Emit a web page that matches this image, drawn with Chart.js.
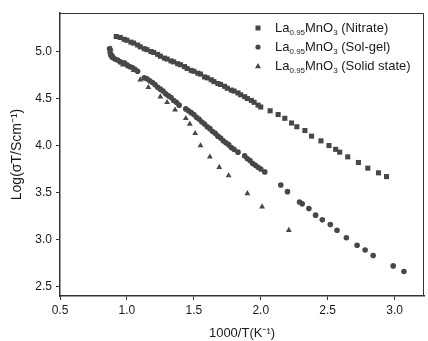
<!DOCTYPE html>
<html>
<head>
<meta charset="utf-8">
<script src="https://cdn.jsdelivr.net/npm/chart.js@4.4.0/dist/chart.umd.min.js"></script>
<style>
  html, body { margin: 0; padding: 0; background: #fff; }
  #wrap { width: 428px; height: 341px; }
</style>
</head>
<body>
<div id="wrap"><canvas id="myChart" width="428" height="341"></canvas></div>
<script>
// values: x = 1000/T (K^-1), y = Log(sigma T)
const nitrateX = [0.92, 0.95, 0.98, 1.00, 1.03, 1.05, 1.08, 1.10, 1.13, 1.15, 1.18, 1.20, 1.23, 1.25, 1.28, 1.30,
  1.33, 1.35, 1.38, 1.40, 1.43, 1.45, 1.48, 1.50, 1.53, 1.55, 1.58, 1.60, 1.63, 1.65, 1.68, 1.70, 1.73, 1.75,
  1.78, 1.80, 1.83, 1.85, 1.88, 1.90, 1.93, 1.95, 1.98, 2.00, 2.07, 2.13, 2.18, 2.23, 2.27, 2.33, 2.38, 2.45,
  2.51, 2.56, 2.59, 2.65, 2.73, 2.80, 2.88, 2.94];
const nitrateY = [5.16, 5.15, 5.13, 5.12, 5.10, 5.09, 5.07, 5.05, 5.03, 5.02, 5.00, 4.99, 4.97, 4.95, 4.93, 4.92,
  4.90, 4.89, 4.87, 4.86, 4.84, 4.82, 4.80, 4.79, 4.77, 4.76, 4.73, 4.72, 4.70, 4.68, 4.66, 4.65, 4.63, 4.61,
  4.59, 4.58, 4.56, 4.54, 4.52, 4.50, 4.48, 4.46, 4.43, 4.41, 4.37, 4.33, 4.29, 4.24, 4.20, 4.16, 4.10, 4.05,
  4.00, 3.96, 3.93, 3.88, 3.82, 3.76, 3.71, 3.67];

const solGelX = [0.87, 0.875, 0.88, 0.89, 0.91, 0.93, 0.95, 0.98, 1.00, 1.02, 1.04, 1.06, 1.08,
  1.13, 1.15, 1.17, 1.19, 1.21, 1.23, 1.25, 1.27, 1.29, 1.31, 1.33, 1.35, 1.37, 1.39,
  1.44, 1.46, 1.48, 1.50, 1.52, 1.54, 1.56, 1.58, 1.60, 1.62, 1.64, 1.66, 1.68, 1.70, 1.72, 1.74, 1.76, 1.78, 1.80, 1.83,
  1.88, 1.90, 1.92, 1.94, 1.96, 1.98, 2.00, 2.03,
  2.15, 2.20, 2.29, 2.31, 2.36, 2.41, 2.46, 2.52, 2.57, 2.64, 2.72, 2.78, 2.84, 2.99, 3.07];
const solGelY = [5.03, 4.99, 4.96, 4.94, 4.92, 4.91, 4.89, 4.88, 4.86, 4.84, 4.83, 4.81, 4.79,
  4.72, 4.71, 4.69, 4.67, 4.65, 4.62, 4.60, 4.58, 4.55, 4.53, 4.51, 4.48, 4.46, 4.43,
  4.39, 4.37, 4.35, 4.33, 4.30, 4.28, 4.25, 4.23, 4.20, 4.18, 4.15, 4.13, 4.10, 4.08, 4.05, 4.03, 4.01, 3.98, 3.96, 3.93,
  3.89, 3.86, 3.84, 3.81, 3.79, 3.77, 3.75, 3.72,
  3.58, 3.51, 3.40, 3.38, 3.33, 3.26, 3.21, 3.16, 3.10, 3.02, 2.94, 2.89, 2.83, 2.72, 2.66];

const solidX = [0.88, 0.90, 0.97, 1.01, 1.05, 1.10, 1.16, 1.25, 1.30, 1.36, 1.44, 1.47, 1.51, 1.55,
  1.62, 1.69, 1.76, 1.90, 2.01, 2.21];
const solidY = [5.03, 4.95, 4.86, 4.84, 4.80, 4.70, 4.62, 4.52, 4.46, 4.38, 4.29, 4.23, 4.13, 4.00,
  3.88, 3.77, 3.68, 3.49, 3.35, 3.10];

const xTicks = [0.5, 1.0, 1.5, 2.0, 2.5, 3.0];
const yTicks = [2.5, 3.0, 3.5, 4.0, 4.5, 5.0];

// legend label parts: [text, subscript?]
const legendLabels = [
  [['La', false], ['0.95', true], ['MnO', false], ['3', true], [' (Nitrate)', false]],
  [['La', false], ['0.95', true], ['MnO', false], ['3', true], [' (Sol-gel)', false]],
  [['La', false], ['0.95', true], ['MnO', false], ['3', true], [' (Solid state)', false]]
];

const markColor = '#474747';
const inkColor = '#1a1a1a';
const font = 'Liberation Sans, Arial, sans-serif';

const toPoints = (xs, ys) => xs.map((x, i) => ({ x: x, y: ys[i] }));

const drawMark = (ctx, style, x, y) => {
  ctx.fillStyle = markColor;
  ctx.beginPath();
  if (style === 'rect') {
    ctx.rect(x - 2.5, y - 2.5, 5, 5);
  } else if (style === 'circle') {
    ctx.arc(x, y, 2.6, 0, Math.PI * 2);
  } else {
    ctx.moveTo(x, y - 3.1);
    ctx.lineTo(x + 3, y + 2.3);
    ctx.lineTo(x - 3, y + 2.3);
    ctx.closePath();
  }
  ctx.fill();
};

const framePlugin = {
  id: 'frame',
  afterDraw(chart) {
    const { ctx, chartArea: a } = chart;
    ctx.save();
    ctx.strokeStyle = '#333';
    ctx.lineWidth = 1;
    ctx.beginPath();
    ctx.moveTo(a.left, a.top + 0.5);
    ctx.lineTo(a.right - 0.5, a.top + 0.5);
    ctx.lineTo(a.right - 0.5, a.bottom);
    ctx.stroke();

    // legend with subscripts
    const styles = ['rect', 'circle', 'triangle'];
    const rows = [28, 47, 66];
    rows.forEach((y, i) => {
      drawMark(ctx, styles[i], 258, y);
      let x = 275;
      ctx.fillStyle = inkColor;
      ctx.textBaseline = 'middle';
      legendLabels[i].forEach(([txt, sub]) => {
        ctx.font = (sub ? '8px ' : '13px ') + font;
        ctx.fillText(txt, x, sub ? y + 5 : y);
        x += ctx.measureText(txt).width;
      });
    });
    ctx.restore();
  }
};

const ctx = document.getElementById('myChart');

const data = {
  datasets: [
    { label: 'Nitrate', data: toPoints(nitrateX, nitrateY), pointStyle: 'rect', pointRadius: 3.6 },
    { label: 'Sol-gel', data: toPoints(solGelX, solGelY), pointStyle: 'circle', pointRadius: 2.8 },
    { label: 'Solid state', data: toPoints(solidX, solidY), pointStyle: 'triangle', pointRadius: 3.4 }
  ].map(d => Object.assign(d, {
    backgroundColor: markColor,
    borderColor: markColor,
    borderWidth: 0,
    showLine: false
  }))
};

const config = {
  type: 'scatter',
  data: data,
  options: {
    responsive: false,
    animation: false,
    devicePixelRatio: 1,
    layout: { padding: { top: 13, right: 1, left: 0, bottom: 0 } },
    plugins: {
      legend: { display: false },
      tooltip: { enabled: false }
    },
    scales: {
      x: {
        type: 'linear',
        min: 0.5,
        max: 3.22,
        afterBuildTicks: scale => { scale.ticks = xTicks.map(v => ({ value: v })); },
        afterFit: scale => { scale.height = 45; },
        grid: { drawOnChartArea: false, tickLength: 4, color: '#333', tickColor: '#333' },
        border: { color: '#333', width: 1.5 },
        ticks: {
          color: inkColor,
          padding: 3,
          font: { family: font, size: 12 },
          callback: v => v.toFixed(1)
        },
        title: {
          display: true,
          text: '1000/T(K⁻¹)',
          color: inkColor,
          font: { family: font, size: 13 },
          padding: { top: 3, bottom: 0 }
        }
      },
      y: {
        type: 'linear',
        min: 2.4,
        max: 5.41,
        afterBuildTicks: scale => { scale.ticks = yTicks.map(v => ({ value: v })); },
        afterFit: scale => { scale.width = 60; },
        grid: { drawOnChartArea: false, tickLength: 4, color: '#333', tickColor: '#333' },
        border: { color: '#333', width: 1.5 },
        ticks: {
          color: inkColor,
          padding: 4,
          font: { family: font, size: 12 },
          callback: v => v.toFixed(1)
        },
        title: {
          display: true,
          text: 'Log(σT/Scm⁻¹)',
          color: inkColor,
          font: { family: font, size: 14 },
          padding: { top: 9, bottom: 0 }
        }
      }
    }
  },
  plugins: [framePlugin]
};

const myChart = new Chart(ctx, config);
</script>
</body>
</html>
